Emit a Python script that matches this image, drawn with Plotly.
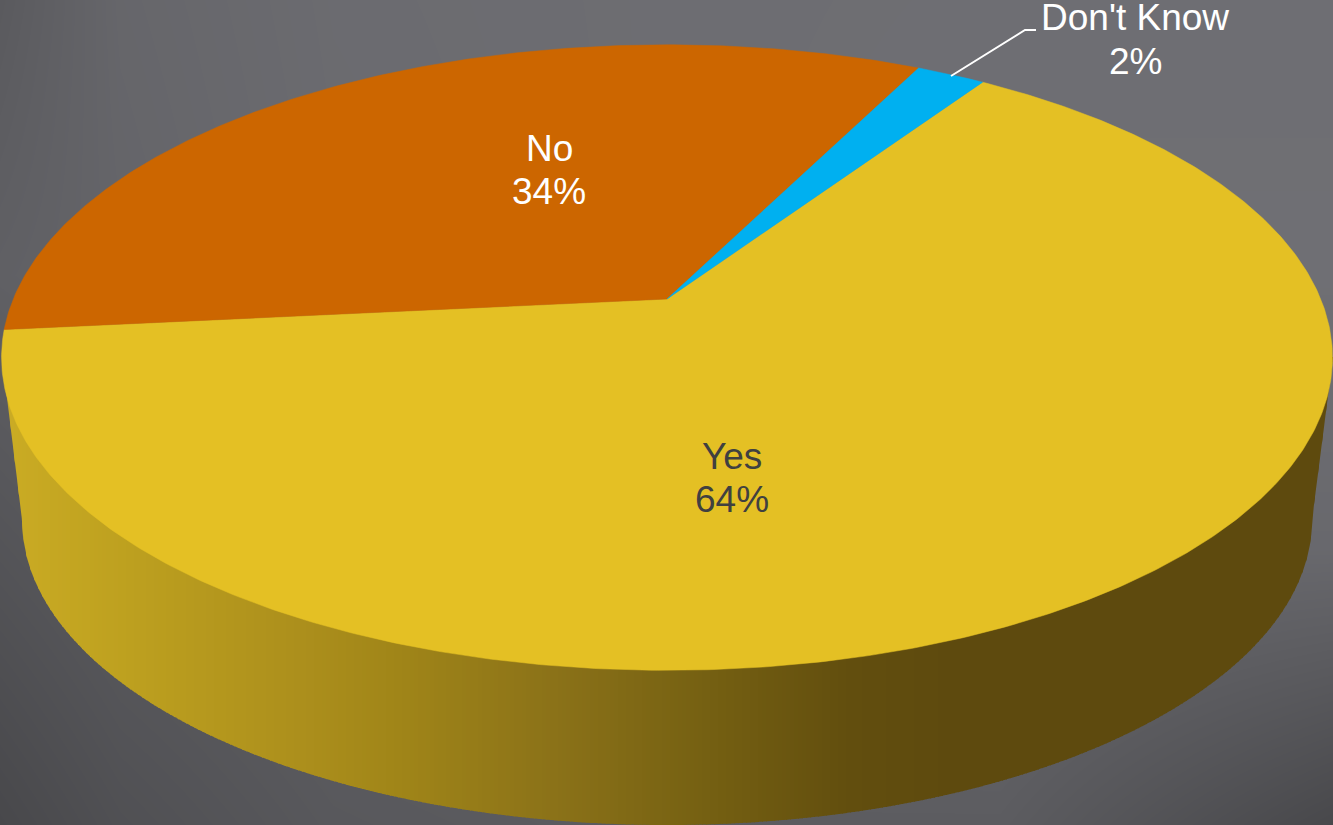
import math
import plotly.graph_objects as go

# ---- chart data ----
LABELS = ["Yes", "No", "Don't Know"]
VALUES = [64, 34, 2]
SLICE_COLORS = ["#E4C024", "#CC6600", "#00B0F0"]
TEXT_COLORS = ["#404040", "#FFFFFF", "#FFFFFF"]
LABEL_X = [732, 549, 1135]
LABEL_Y = [456, 148, 17]
PERCENT_Y = [499, 191, 61]
START_ANGLE = 33.9  # clockwise from 12 o'clock, where the first slice begins

# ---- background grey levels (coarse grid) ----
BG_X = [0, 120, 333, 666, 1000, 1333]
BG_Y = [0, 275, 550, 825]
BG_Z = [
    [90, 102, 107, 109, 110, 110],
    [96, 100, 106, 109, 111, 111],
    [84, 90, 95, 100, 104, 104],
    [72, 80, 88, 92, 92, 72],
]

# ---- side wall shading ----
WALL_STOPS = [
    (0, (203, 172, 36)), (130, (189, 160, 31)), (300, (172, 143, 28)),
    (400, (160, 133, 24)), (560, (138, 113, 24)), (700, (118, 97, 18)),
    (850, (98, 78, 14)), (950, (94, 74, 14)), (1333, (94, 74, 14)),
]

# ---- projection of the tilted disc ----
CX, CY, RX, RY, K = 667.0, 299.0, 653.7, 301.8, 0.1872
BOT_CX, BOT_CY, BOT_A, BOT_B = 667.0, 520.0, 645.0, 305.0


def project(theta_deg):
    t = math.radians(theta_deg)
    X, Y = math.sin(t), -math.cos(t)
    w = 1 - K * Y
    return CX + RX * X / w, CY + RY * Y / w


def wall_bottom(x):
    left, right = BOT_CX - BOT_A, BOT_CX + BOT_A
    if x < left:
        return 357 + (x - 2) / (left - 2) * (BOT_CY - 357)
    if x > right:
        return 357 + (1333 - x) / (1333 - right) * (BOT_CY - 357)
    return BOT_CY + BOT_B * math.sqrt(max(0, 1 - ((x - BOT_CX) / BOT_A) ** 2))


def wall_color(x):
    for (x0, c0), (x1, c1) in zip(WALL_STOPS, WALL_STOPS[1:]):
        if x <= x1:
            f = (x - x0) / (x1 - x0)
            return "rgb(%d,%d,%d)" % tuple(round(a + (b - a) * f) for a, b in zip(c0, c1))
    return "rgb(%d,%d,%d)" % WALL_STOPS[-1][1]


fig = go.Figure()

fig.add_trace(go.Heatmap(
    x=BG_X, y=BG_Y, z=BG_Z, zmin=70, zmax=115, zsmooth="best", showscale=False, hoverinfo="skip",
    colorscale=[[0, "rgb(70,70,73)"], [1, "rgb(115,115,120)"]],
))

# side wall as narrow vertical strips so it can carry a left-to-right shade;
# each strip runs one pixel under the next so no seams show
STEP = 4
x = 2
while x < 1333:
    x2 = min(x + STEP, 1333)
    x_end = min(x2 + 1, 1333)
    mids = [x + (x_end - x) * i / 4 for i in range(5)]
    xs = [x] + mids + [x_end, x]
    ys = [357] + [wall_bottom(m) for m in mids] + [357, 357]
    fig.add_trace(go.Scatter(x=xs, y=ys, mode="lines", fill="toself", fillcolor=wall_color((x + x2) / 2),
                             line=dict(width=0), hoverinfo="skip", showlegend=False))
    x = x2

# top face slices, sized from VALUES
total = sum(VALUES)
angle = START_ANGLE
for label, value, color in zip(LABELS, VALUES, SLICE_COLORS):
    sweep = value / total * 360
    n = max(8, int(sweep * 2))
    pts = [project(angle + sweep * i / n) for i in range(n + 1)]
    fig.add_trace(go.Scatter(
        x=[CX] + [p[0] for p in pts] + [CX], y=[CY] + [p[1] for p in pts] + [CY],
        mode="lines", fill="toself", fillcolor=color, line=dict(color=color, width=0.5),
        name=label, hoverinfo="name", showlegend=False))
    angle += sweep

# leader line of the small slice
LEADER_X = [951, 1025, 1036]
LEADER_Y = [76, 30, 30]
fig.add_trace(go.Scatter(x=LEADER_X, y=LEADER_Y, mode="lines", line=dict(color="#FFFFFF", width=2),
                         hoverinfo="skip", showlegend=False))

FONT = "Liberation Sans, Arial, sans-serif"
for label, value, tc, lx, ly, py in zip(LABELS, VALUES, TEXT_COLORS, LABEL_X, LABEL_Y, PERCENT_Y):
    for text, yy in ((label, ly), (f"{value}%", py)):
        fig.add_annotation(x=lx, y=yy, text=text, showarrow=False, xanchor="center", yanchor="middle",
                           font=dict(family=FONT, size=37, color=tc))

fig.update_layout(
    width=1333, height=825, margin=dict(l=0, r=0, t=0, b=0, pad=0),
    paper_bgcolor="#6B6B70", plot_bgcolor="rgba(0,0,0,0)", showlegend=False,
    xaxis=dict(range=[0, 1333], visible=False, fixedrange=True),
    yaxis=dict(range=[825, 0], visible=False, fixedrange=True),
)

fig.write_html("out.html", post_script="document.body.style.margin='0';document.body.style.overflow='hidden';",
               config={"displayModeBar": False})
